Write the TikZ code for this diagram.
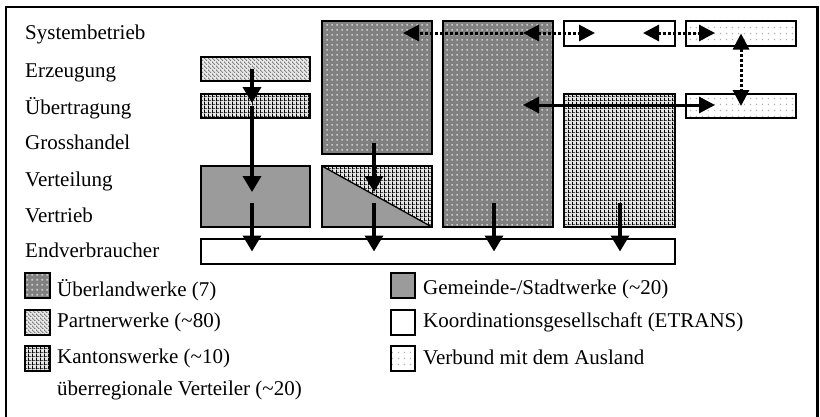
\documentclass[tikz,border=0pt]{standalone}
\usepackage{fontspec}
\setmainfont{Liberation Serif}
\usetikzlibrary{arrows.meta,patterns,calc}

\definecolor{uebfill}{RGB}{128,128,128}
\definecolor{ubdot}{RGB}{205,205,205}
\definecolor{partnerbg}{RGB}{232,232,232}
\definecolor{partnerfg}{RGB}{85,85,85}
\definecolor{kantonbg}{RGB}{228,228,228}
\definecolor{gemfill}{RGB}{155,155,155}
\definecolor{auslfg}{RGB}{175,175,175}

\pgfdeclarepatternformonly{ubdots}{\pgfpoint{0pt}{0pt}}{\pgfpoint{5pt}{5pt}}{\pgfpoint{5pt}{5pt}}{%
  \pgfpathrectangle{\pgfpoint{1.5pt}{1.5pt}}{\pgfpoint{2pt}{2pt}}\pgfusepath{fill}}
\pgfdeclarepatternformonly{fdots}{\pgfpoint{0pt}{0pt}}{\pgfpoint{5.5pt}{5.5pt}}{\pgfpoint{5.5pt}{5.5pt}}{%
  \pgfpathrectangle{\pgfpoint{2pt}{2pt}}{\pgfpoint{1.3pt}{1.3pt}}\pgfusepath{fill}}
\pgfdeclarepatternformonly{pdiag}{\pgfpoint{0pt}{0pt}}{\pgfpoint{4pt}{4pt}}{\pgfpoint{4pt}{4pt}}{%
  \pgfpathrectangle{\pgfpoint{0pt}{3pt}}{\pgfpoint{1pt}{1pt}}%
  \pgfpathrectangle{\pgfpoint{1pt}{2pt}}{\pgfpoint{1pt}{1pt}}%
  \pgfpathrectangle{\pgfpoint{2pt}{1pt}}{\pgfpoint{1pt}{1pt}}%
  \pgfpathrectangle{\pgfpoint{3pt}{0pt}}{\pgfpoint{1pt}{1pt}}\pgfusepath{fill}}
\pgfdeclarepatternformonly{kgrid}{\pgfpoint{0pt}{0pt}}{\pgfpoint{4pt}{4pt}}{\pgfpoint{4pt}{4pt}}{%
  \pgfpathrectangle{\pgfpoint{0pt}{0pt}}{\pgfpoint{1.2pt}{4pt}}%
  \pgfpathrectangle{\pgfpoint{0pt}{0pt}}{\pgfpoint{4pt}{0.9pt}}\pgfusepath{fill}}

\tikzset{
  rect/.style={rectangle, inner sep=0pt, outer sep=0pt, anchor=north west, draw=black, line width=1.3pt},
  ueber/.style={rect, preaction={fill=uebfill}, pattern=ubdots, pattern color=ubdot},
  partner/.style={rect, preaction={fill=partnerbg}, pattern=pdiag, pattern color=partnerfg},
  kanton/.style={rect, preaction={fill=kantonbg}, pattern=kgrid, pattern color=black},
  gemeinde/.style={rect, fill=gemfill},
  etrans/.style={rect, fill=white},
  ausland/.style={rect, preaction={fill=white}, pattern=fdots, pattern color=auslfg},
  lbl/.style={inner sep=0pt, anchor=base west, font=\fontsize{21pt}{25pt}\selectfont},
  arr/.style={line width=3.5pt, -{Triangle[length=16pt,width=18pt]}},
  harr/.style={line width=3pt, {Triangle[length=16pt,width=16pt]}-{Triangle[length=16pt,width=16pt]}},
  darr/.style={line width=3pt, dash pattern=on 3pt off 2pt},
  dboth/.style={darr, {Triangle[length=16pt,width=16pt]}-{Triangle[length=16pt,width=16pt]}},
  done/.style={darr, -{Triangle[length=16pt,width=16pt]}}
}

\begin{document}
\begin{tikzpicture}[x=1pt,y=-1pt]
\useasboundingbox (0,0) rectangle (820,416);
% frame
\draw[line width=2.5pt] (6,420) -- (6,7) -- (817.5,7) -- (817.5,420);

% row labels
\node[lbl] (lsys) at (25,39) {Systembetrieb};
\node[lbl] (lerz) at (25,77) {Erzeugung};
\node[lbl] (luebt) at (25,114) {Übertragung};
\node[lbl] (lgross) at (25,149) {Grosshandel};
\node[lbl] (lvert) at (25,186) {Verteilung};
\node[lbl] (lvtr) at (25,222) {Vertrieb};
\node[lbl] (lend) at (25,257) {Endverbraucher};

% boxes
\node[partner, minimum width=109pt, minimum height=24pt] (partner) at (201,57) {};
\node[kanton, minimum width=109pt, minimum height=24pt] (kanton1) at (201,94) {};
\node[gemeinde, minimum width=109pt, minimum height=61pt] (gem) at (201,166) {};
\node[kanton, minimum width=110pt, minimum height=61pt] (split) at (322,166) {};
\fill[gemfill] (split.north west) -- (split.south east) -- (split.south west) -- cycle;
\draw[line width=1.3pt] (split.north west) -- (split.south east);
\draw[line width=1.3pt] (split.north west) rectangle (split.south east);
\node[ueber, minimum width=110pt, minimum height=133pt] (uetop) at (322,21) {};
\node[ueber, minimum width=110pt, minimum height=206pt] (uebig) at (443,21) {};
\node[kanton, minimum width=111pt, minimum height=133pt] (kbig) at (564,94) {};
\node[etrans, minimum width=111pt, minimum height=25pt] (etrans) at (564,21) {};
\node[ausland, minimum width=110pt, minimum height=25pt] (ausl1) at (686,21) {};
\node[ausland, minimum width=110pt, minimum height=24pt] (ausl2) at (686,94) {};
\node[etrans, minimum width=474pt, minimum height=25pt] (endv) at (201,239) {};

% arrow columns and rows
\coordinate (c1) at (252,0);
\coordinate (c2) at (374,0);
\coordinate (c3) at (494,0);
\coordinate (c4) at (620,0);
\coordinate (r1) at (0,203);

\draw[arr] (c1 |- partner.center) -- ($(c1 |- kanton1.center)+(0,-3)$);
\draw[arr] (c1 |- kanton1.center) -- ($(c1 |- gem.center)+(0,-4.5)$);
\draw[arr] ($(c2 |- uetop.south)+(0,-11)$) -- ($(c2 |- split.center)+(0,-4.5)$);
\draw[arr] (c1 |- r1) -- (c1 |- endv.center);
\draw[arr] (c2 |- r1) -- (c2 |- endv.center);
\draw[arr] (c3 |- r1) -- (c3 |- endv.center);
\draw[arr] (c4 |- r1) -- (c4 |- endv.center);

% horizontal solid double arrow
\coordinate (h1) at (523,105);
\coordinate (h2) at (715,105);
\draw[harr] (h1) -- (h2);

% dotted arrows
\coordinate (t1) at (403,33);
\coordinate (t2) at (523,33);
\coordinate (t3) at (595,33);
\coordinate (t4) at (643,33);
\coordinate (t5) at (715,33);
\draw[done] (t2) -- (t1);
\draw[dboth] (t2) -- (t3);
\draw[dboth] (t4) -- (t5);
\draw[dboth] (ausl1.center) -- (ausl2.center);

% legend
\node[ueber, minimum width=25pt, minimum height=25pt] (lg1) at (25,273) {};
\node[partner, minimum width=25pt, minimum height=25pt] (lg2) at (25,310) {};
\node[kanton, minimum width=25pt, minimum height=25pt] (lg3) at (25,346) {};
\node[gemeinde, minimum width=24pt, minimum height=25pt] (lg4) at (391,273) {};
\node[etrans, minimum width=24pt, minimum height=25pt] (lg5) at (391,310) {};
\node[ausland, minimum width=24pt, minimum height=25pt] (lg6) at (391,346) {};

\node[lbl] (t_lg1) at (57,296) {Überlandwerke (7)};
\node[lbl] (t_lg2) at (57,327) {Partnerwerke (\textasciitilde80)};
\node[lbl] (t_lg3) at (57,363) {Kantonswerke (\textasciitilde10)};
\node[lbl] (t_lg3b) at (57,395) {überregionale Verteiler (\textasciitilde20)};
\node[lbl] (t_lg4) at (423,294) {Gemeinde-/Stadtwerke (\textasciitilde20)};
\node[lbl] (t_lg5) at (423,327) {Koordinationsgesellschaft (ETRANS)};
\node[lbl] (t_lg6) at (423,364) {Verbund mit dem Ausland};
\end{tikzpicture}
\end{document}
